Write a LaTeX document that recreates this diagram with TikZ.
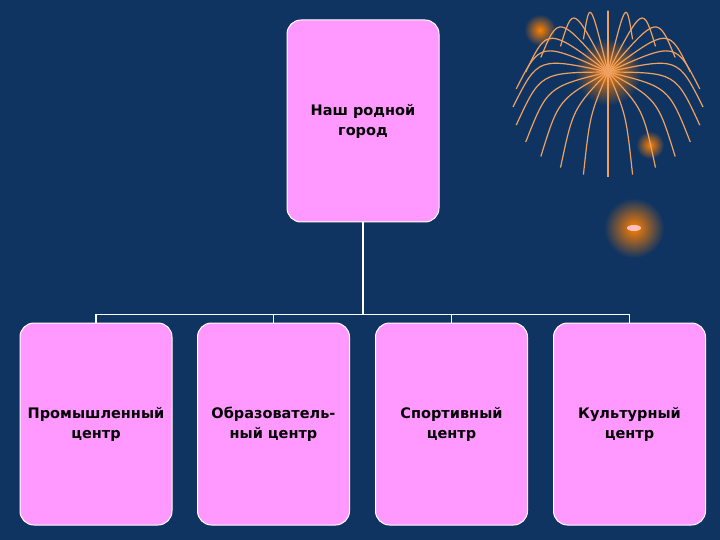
\documentclass[tikz,border=0pt]{standalone}
\usepackage{fontspec}
\setmainfont{DejaVu Sans}
\definecolor{bg}{HTML}{0F3462}
\definecolor{pinkbox}{HTML}{FF99FF}
\definecolor{spark}{HTML}{F0A060}
\begin{document}
\begin{tikzpicture}[x=1pt,y=-1pt,
  box/.style={draw=white,line width=1pt,fill=pinkbox,rounded corners=14pt,minimum width=152pt,minimum height=202pt,inner sep=0pt,align=center,font=\bfseries\fontsize{14.5}{20}\selectfont,text=black},
  link/.style={draw=white,line width=1.5pt}]
\useasboundingbox (0,0) rectangle (720,540);
\clip (0,0) rectangle (720,540);
\fill[bg] (0,0) rectangle (720,540);
% fireworks
\foreach \cx/\cy/\r in {540/30/45,608/72/95,650/145/40}{
  \shade[inner color=orange,outer color=bg] (\cx,\cy) circle (0.35*\r);
}
\foreach \a in {0,15,...,345}{
  \draw[spark,line width=1.2pt] (608,72) .. controls ({608+70*cos(\a)},{72+60*sin(\a)-15}) .. ({608+95*cos(\a)},{72+70*sin(\a)+35});
}
\shade[inner color=orange,outer color=bg] (634,228) circle (30);
\fill[pink] (634,228) ellipse (7 and 3);
\node[box] (top) at (363,121) {Наш родной\\город};
\node[box] (a) at (96,424) {Промышленный\\центр};
\node[box] (b) at (273.5,424) {Образователь-\\ный центр};
\node[box] (c) at (451.5,424) {Спортивный\\центр};
\node[box] (d) at (629.5,424) {Культурный\\центр};
\coordinate (j) at (363,315);
\draw[link] (top.south) -- (j);
\draw[link] (a.north) -- ++(0,-8) -| (d.north);
\draw[link] (b.north) -- ++(0,-8);
\draw[link] (c.north) -- ++(0,-8);
\end{tikzpicture}
\end{document}
